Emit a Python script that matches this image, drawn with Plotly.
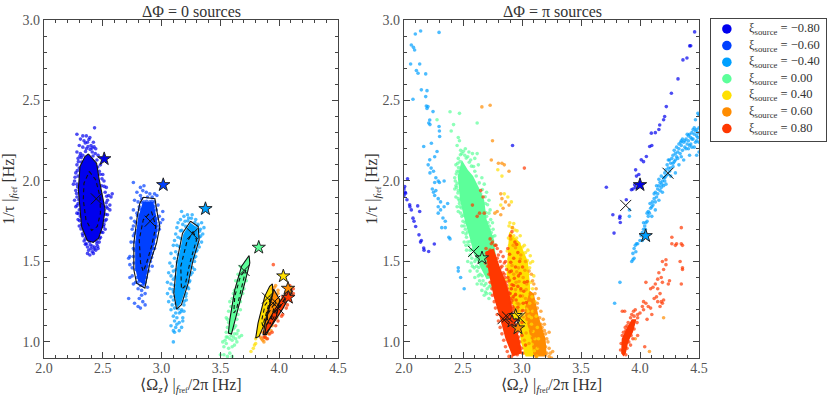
import plotly.graph_objects as go

W, H = 831, 399
FONT = "Liberation Serif"

# colours for each xi value
xi_labels = ["\u22120.80", "\u22120.60", "\u22120.40", "0.00", "0.40", "0.60", "0.80"]
xi_colors = ["#0000ee", "#0040ff", "#00a0ff", "#5cff9a", "#ffe000", "#ff8c00", "#ff3800"]
c_m08, c_m06, c_m04, c_000, c_p04, c_p06, c_p08 = xi_colors

# ---- left panel, dphi = 0 : clouds, dense cores, 90% / 50% contours
l_m08_pts = [(2.43,2.33),(2.28,2.29),(2.33,2.28),(2.36,2.28),(2.31,2.26),(2.39,2.27),(2.34,2.25),(2.37,2.24),(2.42,2.24),(2.30,2.22),(2.33,2.21),(2.40,2.22),(2.36,2.20),(2.44,2.20),(2.28,2.18),(2.31,2.17),(2.41,2.18),(2.46,2.16),(2.29,2.14),(2.33,2.16),(2.45,2.13),(2.48,2.10),(2.28,2.10),(2.30,2.08),(2.27,2.05),(2.47,2.06),(2.50,2.04),(2.29,2.03),(2.26,2.00),(2.28,1.98),(2.51,2.00),(2.49,1.97),(2.53,1.96),(2.25,1.98),(2.27,1.94),(2.52,1.93),(2.55,1.91),(2.58,1.92),(2.57,1.90),(2.28,1.90),(2.26,1.88),(2.54,1.88),(2.29,1.86),(2.56,1.85),(2.27,1.84),(2.53,1.84),(2.30,1.82),(2.28,1.80),(2.56,1.82),(2.54,1.79),(2.31,1.78),(2.29,1.76),(2.53,1.76),(2.51,1.73),(2.32,1.73),(2.30,1.72),(2.52,1.70),(2.34,1.69),(2.50,1.68),(2.33,1.66),(2.48,1.65),(2.35,1.64),(2.47,1.62),(2.36,1.61),(2.45,1.61),(2.37,1.59),(2.43,1.59),(2.40,1.58),(2.44,1.57),(2.38,1.57),(2.41,1.56),(2.39,1.54),(2.42,1.55),(2.37,1.55),(2.46,1.58),
             (2.292,2.12),(2.317,2.145),(2.353,2.183),(2.392,2.196),(2.417,2.155),(2.436,2.171),(2.457,2.087),(2.478,2.042),(2.264,2.023),(2.283,2.064),(2.318,2.118),(2.493,2.013),(2.286,1.962),(2.512,1.966),(2.277,1.922),(2.533,1.905),(2.296,1.883),(2.529,1.864),(2.281,1.847),(2.541,1.83),(2.293,1.797),(2.523,1.793),(2.303,1.753),(2.519,1.752),(2.314,1.702),(2.506,1.716),(2.327,1.672),(2.488,1.683),(2.341,1.627),(2.472,1.643),(2.352,1.606),(2.455,1.594),(2.393,1.603),(2.426,1.577),(2.409,1.596),(2.387,1.622),(2.447,1.626),(2.305,2.155),(2.374,2.213),(2.351,2.236),(2.409,2.204),(2.426,2.212),(2.382,2.258)]
l_m08_core = [(2.377,2.168),(2.447,2.11),(2.47,2.007),(2.498,1.903),(2.52,1.821),(2.498,1.717),(2.464,1.645),(2.419,1.618),(2.368,1.63),(2.32,1.717),(2.306,1.821),(2.292,1.945),(2.306,2.09),(2.348,2.152)]
l_m08_in = [(2.385,2.059),(2.44,2.007),(2.476,1.903),(2.48,1.80),(2.453,1.717),(2.405,1.692),(2.357,1.759),(2.334,1.883),(2.34,1.986)]
l_m06_pts = [(2.76,1.99),(2.82,1.96),(2.85,1.97),(2.84,1.94),(2.79,1.93),(2.87,1.93),(2.90,1.92),(2.94,1.92),(2.96,1.91),(2.82,1.91),(2.77,1.88),(2.80,1.87),(2.92,1.90),(2.83,1.89),(2.88,1.90),(2.85,1.87),(2.90,1.87),(2.94,1.87),(2.97,1.85),(2.81,1.84),(2.76,1.82),(2.79,1.80),(3.01,1.81),(2.98,1.78),(2.74,1.77),(2.77,1.75),(2.99,1.74),(3.01,1.76),(2.76,1.72),(2.75,1.70),(2.98,1.70),(2.76,1.66),(2.74,1.62),(2.95,1.66),(2.93,1.63),(2.76,1.58),(2.94,1.58),(2.72,1.52),(2.73,1.53),(2.92,1.55),(2.90,1.52),(2.73,1.48),(2.75,1.46),(2.92,1.47),(2.89,1.44),(2.75,1.41),(2.73,1.40),(2.87,1.40),(2.78,1.37),(2.76,1.36),(2.88,1.34),(2.80,1.33),(2.83,1.32),(2.86,1.30),(2.83,1.29),(2.81,1.27),(2.84,1.25),(2.72,1.27),(2.77,1.24),(2.80,1.22),(2.86,1.23),(2.82,1.21),
             (2.832,1.868),(2.855,1.846),(2.873,1.874),(2.897,1.858),(2.918,1.873),(2.937,1.842),(2.812,1.824),(2.846,1.828),(2.905,1.835),(2.955,1.82),(2.795,1.785),(2.822,1.79),(2.935,1.785),(2.962,1.765),(2.782,1.74),(2.805,1.72),(2.953,1.74),(2.972,1.72),(2.772,1.675),(2.79,1.69),(2.955,1.69),(2.945,1.65),(2.765,1.62),(2.935,1.61),(2.77,1.57),(2.76,1.53),(2.925,1.58),(2.915,1.525),(2.765,1.49),(2.905,1.50),(2.78,1.45),(2.88,1.47),(2.79,1.40),(2.87,1.43),(2.80,1.37),(2.84,1.35),(2.86,1.37),(2.82,1.35)]
l_m06_core = [(2.84,1.87),(2.93,1.87),(2.96,1.76),(2.965,1.70),(2.94,1.61),(2.89,1.49),(2.855,1.35),(2.80,1.38),(2.775,1.46),(2.775,1.61),(2.80,1.77)]
l_m06_out = [(2.844,1.899),(2.943,1.889),(2.963,1.80),(2.985,1.717),(2.957,1.614),(2.90,1.49),(2.858,1.334),(2.787,1.365),(2.764,1.448),(2.764,1.614),(2.793,1.779),(2.815,1.862)]
l_m06_in = [(2.914,1.81),(2.951,1.717),(2.914,1.593),(2.872,1.49),(2.844,1.438),(2.821,1.49),(2.81,1.634),(2.844,1.759)]
l_m04_pts = [(3.17,1.81),(3.22,1.79),(3.26,1.79),(3.19,1.78),(3.23,1.77),(3.29,1.76),(3.16,1.76),(3.14,1.74),(3.31,1.73),(3.34,1.74),(3.20,1.75),(3.18,1.73),(3.13,1.71),(3.33,1.70),(3.36,1.71),(3.16,1.69),(3.12,1.67),(3.35,1.67),(3.32,1.65),(3.14,1.65),(3.11,1.63),(3.34,1.62),(3.13,1.60),(3.10,1.60),(3.32,1.59),(3.12,1.56),(3.08,1.55),(3.30,1.57),(3.29,1.53),(3.11,1.52),(3.07,1.49),(3.09,1.47),(3.28,1.50),(3.28,1.45),(3.10,1.44),(3.06,1.43),(3.08,1.41),(3.26,1.43),(3.24,1.38),(3.05,1.37),(3.08,1.36),(3.10,1.39),(3.07,1.33),(3.10,1.31),(3.23,1.33),(3.21,1.30),(3.05,1.30),(3.08,1.28),(3.21,1.26),(3.10,1.26),(3.06,1.25),(3.19,1.23),(3.09,1.23),(3.11,1.21),(3.17,1.20),(3.19,1.19),(3.08,1.20),(3.12,1.18),(3.15,1.18),(3.10,1.16),(3.18,1.15),(3.13,1.15),(3.11,1.13),(3.15,1.12),(3.18,1.13),(3.13,1.11),(3.17,1.09),(3.12,1.09),(3.08,1.10),(3.10,1.07),(3.11,1.06),(3.15,1.07),(3.10,1.00),
             (3.205,1.718),(3.224,1.752),(3.253,1.768),(3.283,1.742),(3.305,1.722),(3.172,1.693),(3.322,1.688),(3.163,1.642),(3.331,1.657),(3.152,1.591),(3.312,1.608),(3.142,1.543),(3.293,1.562),(3.133,1.497),(3.276,1.522),(3.122,1.448),(3.262,1.462),(3.117,1.403),(3.247,1.417),(3.108,1.352),(3.234,1.372),(3.096,1.326),(3.222,1.341),(3.113,1.283),(3.205,1.283),(3.122,1.237),(3.192,1.252),(3.141,1.206),(3.164,1.187)]
l_m04_core = [(3.245,1.74),(3.305,1.71),(3.312,1.635),(3.262,1.51),(3.22,1.365),(3.165,1.24),(3.13,1.21),(3.11,1.30),(3.135,1.49),(3.185,1.67)]
l_m04_out = [(3.246,1.75),(3.311,1.717),(3.319,1.634),(3.268,1.51),(3.226,1.365),(3.169,1.231),(3.127,1.204),(3.104,1.303),(3.127,1.49),(3.178,1.676)]
l_m04_in = [(3.268,1.686),(3.297,1.634),(3.24,1.49),(3.198,1.345),(3.169,1.328),(3.163,1.469),(3.212,1.614)]
l_000_pts = [(3.52,1.00),(3.55,0.99),(3.58,1.02),(3.60,1.01),(3.63,1.02),(3.66,1.03),(3.64,1.00),(3.56,1.03),(3.60,0.97),(3.62,0.98),(3.57,0.96),(3.53,0.97),(3.59,1.04),(3.62,1.05),(3.65,1.07),(3.61,1.08),(3.55,1.06),(3.56,1.09),(3.50,0.92),(3.53,0.92),(3.56,0.91),(3.60,0.91),(3.58,0.93),(3.54,1.01),(3.55,1.15),(3.57,1.19),(3.60,1.27),(3.62,1.32),(3.65,1.38),(3.67,1.42),(3.69,1.47),(3.72,1.50),(3.70,1.33),(3.67,1.25),(3.65,1.17),(3.63,1.10),(3.57,1.12),(3.59,1.22),
             (3.56,1.14),(3.58,1.25),(3.60,1.22),(3.61,1.30),(3.63,1.38),(3.65,1.42),(3.67,1.47),(3.71,1.42),(3.72,1.38),(3.69,1.30),(3.67,1.20),(3.64,1.14),(3.62,1.09),(3.64,1.05),(3.68,1.04),(3.61,1.03),(3.55,1.03)]
l_000_out = [(3.744,1.537),(3.75,1.49),(3.707,1.365),(3.65,1.2),(3.594,1.049),(3.568,1.055),(3.58,1.138),(3.622,1.324),(3.679,1.469)]
l_000_in = [(3.716,1.448),(3.679,1.324),(3.636,1.2),(3.614,1.18),(3.622,1.283),(3.67,1.407)]
l_p04_pts = [(3.76,0.94),(3.78,0.96),(3.80,0.99),(3.80,1.02),(3.82,1.06),(3.79,0.98)]
l_p04_core = [(3.942,1.361),(3.947,1.303),(3.891,1.138),(3.829,1.034),(3.80,1.024),(3.82,1.117),(3.877,1.283),(3.919,1.345)]
l_p04_in = [(3.925,1.27),(3.89,1.17),(3.86,1.10),(3.85,1.13),(3.88,1.23)]
l_p06_pts = [(3.96,1.34),(3.99,1.30),(4.01,1.24),(3.98,1.15),(3.84,1.03),(3.86,1.01),(3.88,1.03),(3.93,1.07),
             (3.85,1.02),(3.87,1.00),(3.89,1.02),(3.91,1.05),(3.94,1.10),(3.96,1.14),(3.99,1.17),(4.01,1.20),(4.02,1.26),(3.99,1.32),(3.97,1.35),(3.94,1.33),(3.90,1.19),(3.88,1.14),(3.87,1.09),(3.86,1.06)]
l_p06_core = [(3.953,1.328),(4.005,1.262),(3.976,1.159),(3.891,1.045),(3.863,1.045),(3.891,1.159)]
l_p06_in = [(3.97,1.25),(3.94,1.17),(3.90,1.11),(3.90,1.17)]
l_p08_pts = [(3.95,1.48),(4.10,1.33),(4.11,1.29),(4.07,1.23),(4.03,1.17),(3.99,1.13),(3.94,1.06),(3.90,1.02),(3.87,1.03),
             (4.09,1.35),(4.12,1.33),(4.12,1.30),(4.09,1.26),(4.06,1.21),(4.02,1.16),(3.97,1.10),(3.92,1.05),(3.88,1.03),(4.06,1.31),(4.03,1.28),(3.98,1.20),(3.95,1.17),(3.90,1.10),(3.875,1.06)]
l_p08_core = [(4.089,1.341),(4.112,1.314),(4.033,1.21),(3.934,1.097),(3.877,1.045),(3.891,1.107),(3.962,1.2),(4.047,1.293)]
l_p08_in = [(4.05,1.27),(3.98,1.18),(3.92,1.11),(3.94,1.16)]

l_cross = [(2.445,1.889),(2.903,1.75),(3.263,1.672),(3.701,1.444),(3.90,1.272),(3.962,1.252),(3.99,1.21)]
l_star = [(2.512,2.137),(3.014,1.976),(3.373,1.827),(3.826,1.587),(4.035,1.409),(4.075,1.332),(4.078,1.276)]
l_star_colors = [c_m08, c_m06, c_m04, c_000, c_p04, c_p06, c_p08]

# ---- right panel, dphi = pi
r_m08_pts = [(2.03,2.013),(2.006,1.965),(2.0,1.95),(2.01,1.93),(2.014,1.924),(2.0,1.91),(2.025,1.883),(2.048,1.852),(2.062,1.82),(2.05,1.84),(2.116,1.845),(2.133,1.81),(2.076,1.769),(2.085,1.75),(2.099,1.717),(2.127,1.665),(2.147,1.63),(2.14,1.62),(2.167,1.583),(2.17,1.57),(2.209,1.562),(2.257,1.608),(3.715,1.961),(3.77,1.79),(3.78,1.676),(3.828,1.769),(3.833,1.742),(3.83,1.78),(3.884,1.883),(3.927,1.945),(3.94,1.95),(3.955,1.976),(3.96,1.96),(3.963,2.069),(3.97,2.03),(3.99,2.04),(4.011,2.131),(4.03,2.12),(4.054,2.152),(4.082,2.214),(4.10,2.22),(4.096,2.297),(4.13,2.30),(4.167,2.348),(4.16,2.32),(4.209,2.40),(4.20,2.38),(4.223,2.462),(4.266,2.545),(4.322,2.634),(4.364,2.752),(4.398,2.764),(4.421,2.839),(4.43,2.84),(4.463,2.926),(2.92,2.22)]
r_m04_pts = [(2.062,2.845),(2.09,2.814),(2.08,2.83),(2.141,2.932),(2.096,2.913),(2.297,2.923),(2.056,2.727),(2.133,2.727),(2.105,2.686),(2.119,2.669),(2.184,2.665),(2.076,2.508),(2.147,2.566),(2.195,2.561),(2.184,2.524),(2.189,2.466),(2.203,2.462),(2.195,2.45),(2.246,2.431),(2.218,2.379),(2.21,2.36),(2.22,2.35),(2.297,2.338),(2.30,2.31),(2.302,2.276),(2.167,2.214),(2.232,2.234),(2.28,2.183),(2.218,2.131),(2.26,2.15),(2.205,2.10),(2.23,2.08),(2.25,2.06),(2.22,2.05),(2.27,2.02),(2.26,1.99),(2.29,2.00),(2.30,1.99),(2.34,2.00),(2.24,1.95),(2.25,1.93),(2.27,1.94),(2.26,1.91),(2.29,1.89),(2.31,1.87),(2.29,1.84),(2.31,1.82),(2.29,1.80),(2.34,1.84),(2.37,1.86),(2.33,1.77),(2.35,1.75),(2.32,1.71),(2.35,1.71),(2.38,1.65),(2.39,1.64),(2.46,1.46),(2.46,1.44),(2.48,1.40),(2.51,1.33),(3.83,1.37),(3.785,1.24),(3.91,1.82),(3.91,1.78),(3.93,1.50),(3.94,1.51),(3.95,1.52),(3.96,1.60),(3.97,1.61),(3.95,1.58),(4.00,1.63),(4.01,1.66),(4.02,1.68),(4.03,1.70),(4.04,1.72),(4.05,1.74),(4.03,1.74),(4.06,1.75),(4.07,1.78),(4.08,1.80),(4.07,1.81),(4.09,1.83),(4.10,1.84),(4.11,1.85),(4.13,1.87),(4.12,1.89),(4.14,1.90),(4.15,1.92),(4.15,1.95),(4.16,1.97),(4.17,1.94),(4.18,1.96),(4.17,1.99),(4.19,2.00),(4.20,2.02),(4.18,2.03),(4.21,2.05),(4.22,2.03),(4.22,2.07),(4.24,2.08),(4.23,2.10),(4.25,2.06),(4.26,2.11),(4.25,2.13),(4.27,2.14),(4.29,2.12),(4.28,2.16),(4.30,2.17),(4.29,2.19),(4.31,2.15),(4.32,2.18),(4.33,2.20),(4.31,2.21),(4.34,2.17),(4.35,2.22),(4.36,2.19),(4.37,2.24),(4.35,2.25),(4.38,2.21),(4.39,2.20),(4.40,2.23),(4.39,2.26),(4.41,2.25),(4.42,2.22),(4.43,2.27),(4.44,2.30),(4.42,2.29),(4.45,2.26),(4.46,2.29),(4.47,2.31),(4.45,2.32),(4.48,2.28),(4.49,2.30),(4.48,2.25),(4.50,2.24),(4.47,2.38),(4.49,2.42),(4.50,2.41),(4.46,2.21),(4.50,2.18),(4.48,2.16),(4.42,2.16),(4.37,2.13),(4.33,2.10),(4.30,2.05),(4.26,2.03),(4.21,2.00),(4.19,1.93),(4.13,1.82),(4.16,1.88),(4.10,1.78),(4.05,1.67),(4.22,1.98),(4.28,2.09),(4.35,2.15),
             (3.94,1.55),(3.98,1.61),(3.965,1.56),(4.02,1.63),(4.045,1.70),(4.06,1.80),(4.085,1.86),(4.105,1.87),(4.12,1.92),(4.13,1.93),(4.14,1.97),(4.16,2.01),(4.185,1.98),(4.20,1.97),(4.21,2.02),(4.235,2.04),(4.24,2.13),(4.26,2.08),(4.28,2.11),(4.30,2.13),(4.32,2.14),(4.33,2.23),(4.345,2.24),(4.36,2.26),(4.38,2.25),(4.40,2.29),(4.41,2.20),(4.43,2.23),(4.44,2.21),(4.46,2.33),(4.48,2.32),(4.47,2.24),(4.49,2.27),(4.50,2.33),(4.44,2.26),(4.41,2.28)]
r_000_pts = [(2.39,2.43),(2.47,2.42),(2.28,2.38),(2.42,2.35),(2.62,2.36),(2.40,2.31),(2.46,2.27),(2.47,2.25),(2.45,2.22),(2.48,2.19),(2.52,2.20),(2.55,2.18),(2.58,2.17),(2.62,2.17),(2.60,2.14),(2.46,2.14),(2.44,2.10),(2.63,2.10),(2.45,2.06),(2.60,2.06),(2.66,2.02),(2.43,2.02),(2.68,1.98),(2.44,1.97),(2.46,1.94),(2.70,1.93),(2.44,1.90),(2.72,1.88),(2.47,1.86),(2.45,1.84),(2.73,1.82),(2.48,1.80),(2.70,1.78),(2.50,1.75),(2.75,1.74),(2.52,1.70),(2.50,1.68),(2.74,1.68),(2.53,1.65),(2.55,1.60),(2.51,1.62),(2.75,1.63),(2.53,1.57),(2.73,1.58),(2.56,1.54),(2.54,1.50),(2.60,1.50),(2.58,1.47),(2.56,1.44),(2.62,1.44),(2.60,1.40),(2.64,1.38),(2.62,1.36),(2.68,1.35),(2.66,1.32),(2.70,1.30),(2.73,1.30),(2.72,1.27),(2.68,1.29),(2.75,1.33),
             (2.478,2.163),(2.503,2.184),(2.527,2.142),(2.553,2.116),(2.572,2.092),(2.612,2.031),(2.638,1.988),(2.664,1.947),(2.688,1.902),(2.708,1.852),(2.462,2.083),(2.443,2.044),(2.451,1.985),(2.457,1.925),(2.469,1.878),(2.486,1.832),(2.503,1.787),(2.518,1.742),(2.537,1.683),(2.558,1.624),(2.572,1.572),(2.608,1.512),(2.634,1.462),(2.662,1.411),(2.694,1.362),(2.722,1.343),(2.742,1.372),(2.712,1.742),(2.724,1.696),(2.752,1.654),(2.775,1.602),(2.693,1.804),
             (2.49,2.17),(2.515,2.16),(2.54,2.15),(2.565,2.13),(2.59,2.09),(2.475,2.12),(2.455,2.11),(2.465,2.06),(2.435,2.0),(2.445,1.96),(2.43,1.95),(2.46,1.89),(2.475,1.84),(2.46,1.81),(2.49,1.78),(2.51,1.72),(2.49,1.72),(2.525,1.67),(2.54,1.62),(2.525,1.60),(2.56,1.57),(2.575,1.52),(2.57,1.49),(2.595,1.46),(2.615,1.47),(2.63,1.41),(2.645,1.42),(2.655,1.36),(2.67,1.38),(2.705,1.33),(2.69,1.31),(2.735,1.35),(2.65,1.92),(2.66,1.90),(2.69,1.86),(2.72,1.80),(2.735,1.76),(2.725,1.72),(2.755,1.70),(2.77,1.66)]
r_000_core = [(2.49,2.13),(2.54,2.07),(2.585,2.03),(2.64,1.95),(2.68,1.88),(2.70,1.76),(2.76,1.64),(2.78,1.52),(2.755,1.40),(2.70,1.39),(2.65,1.46),(2.59,1.55),(2.56,1.64),(2.52,1.74),(2.475,1.88),(2.455,2.03)]
r_p04_pts = [(2.795,2.07),(2.83,2.03),(2.85,1.92),(2.82,1.85),(2.88,1.90),(2.91,1.87),
             (2.89,1.72),(2.915,1.71),(2.94,1.695),(2.905,1.675),(2.93,1.66),(2.955,1.645),(2.885,1.645),(2.91,1.63),(2.945,1.625),(2.975,1.61),(3.005,1.59),(2.895,1.60),(2.925,1.59),(2.96,1.585),(2.99,1.565),(3.03,1.555),(3.07,1.535),(2.875,1.565),(2.905,1.555),(2.94,1.55),(2.975,1.53),(3.01,1.52),(3.045,1.505),(2.89,1.515),(2.92,1.505),(2.955,1.49),(2.99,1.485),(3.03,1.475),(3.065,1.46),(2.87,1.47),(2.905,1.46),(2.94,1.445),(2.975,1.44),(3.01,1.43),(3.05,1.42),(2.885,1.425),(2.92,1.41),(2.96,1.40),(2.995,1.39),(3.03,1.385),(3.075,1.37),(2.865,1.385),(2.90,1.37),(2.94,1.36),(2.98,1.35),(3.015,1.345),(3.055,1.33),(2.88,1.335),(2.92,1.325),(2.96,1.31),(3.0,1.30),(3.04,1.295),(3.085,1.28),(2.90,1.29),(2.94,1.275),(2.98,1.265),(3.02,1.255),(3.065,1.24),(2.92,1.245),(2.955,1.23),(2.995,1.22),(3.04,1.205),(3.09,1.19),(2.935,1.20),(2.975,1.185),(3.015,1.17),(3.06,1.16),(2.99,1.135),(3.035,1.125),(3.08,1.11),(3.005,1.09),(3.05,1.08),(3.095,1.065),(3.02,1.05),(3.065,1.035),(3.11,1.02),(3.04,1.00),(3.085,0.985),(3.06,0.96),(3.105,0.945),(3.08,0.925),(3.125,0.91),
             (2.897,1.74),(2.93,1.735),(2.958,1.69),(2.985,1.66),(3.02,1.60),(3.05,1.57),(3.09,1.50),(3.07,1.49),(3.10,1.41),(3.09,1.33),(3.11,1.25),(3.12,1.16),(3.13,1.09),(3.14,1.02),(3.13,0.96),(3.05,1.19),(3.08,1.15),(3.03,1.09),(3.07,1.01),(3.045,0.94),(2.99,1.17),(3.02,1.13),(2.985,1.10),(3.01,1.01),(3.03,0.97),(3.02,0.93)]
r_p06_pts = [(2.66,2.46),(2.73,2.47),(2.75,2.25),(2.74,2.13),(2.80,2.11),(2.83,2.11),(2.85,2.10),(2.89,2.06),(2.82,1.92),(2.83,1.89),(2.86,1.87),(2.89,1.85),(2.84,1.83),(2.77,1.80),(2.79,1.81),(2.82,1.79),(2.92,1.71),(4.20,1.15),(4.08,0.94),(3.96,1.02),
             (2.925,1.60),(2.99,1.54),(3.03,1.50),(2.97,1.46),(3.06,1.44),(2.93,1.42),(3.01,1.40),(3.09,1.38),(2.95,1.37),(3.04,1.36),(2.91,1.33),(2.99,1.32),(3.07,1.30),(3.11,1.30),(2.94,1.29),(3.03,1.27),(3.10,1.25),(2.96,1.24),(3.05,1.22),(3.13,1.21),(3.00,1.19),(3.09,1.17),(3.15,1.15),(3.04,1.14),(3.12,1.11),(3.17,1.09),(3.07,1.09),(3.15,1.06),(3.20,1.05),(3.10,1.03),(3.18,1.00),(3.23,0.96),(3.14,0.97),(3.21,0.93),
             (3.08,1.42),(3.10,1.36),(3.12,1.33),(3.14,1.27),(3.13,1.24),(3.16,1.19),(3.18,1.14),(3.19,1.11),(3.21,1.02),(3.22,1.00),(3.24,0.93),(3.23,0.91),(3.25,0.90),(3.16,1.11),(3.19,1.07),(3.17,1.03),(3.2,0.97),(3.12,1.06),(3.08,1.07),(3.15,0.93),(3.12,0.91),(3.26,0.94),(3.11,1.19),(3.23,1.06),
             (2.905,1.64),(2.945,1.585),(2.985,1.515),(2.915,1.475),(2.955,1.435),(3.025,1.445),(2.895,1.385),(2.975,1.375),(3.035,1.325),(2.945,1.325),(3.005,1.285),(2.925,1.27),(2.975,1.235),(3.03,1.195),(2.965,1.195),(3.01,1.155),(2.985,1.075),(3.035,1.055),(3.02,1.01),(3.06,0.99)]
r_p06_core = [(3.04,1.33),(3.10,1.30),(3.14,1.16),(3.20,1.02),(3.21,0.91),(3.09,0.91),(3.04,1.02),(3.02,1.18)]
r_p04_core = [(2.89,1.68),(2.98,1.62),(3.05,1.50),(3.07,1.33),(3.02,1.20),(2.95,1.16),(2.90,1.28),(2.87,1.42)]
r_p04_core2 = [(2.97,1.16),(3.03,1.16),(3.08,1.0),(3.10,0.91),(3.03,0.91),(2.99,1.0)]
r_p08_pts = [(3.02,2.08),(2.65,1.94),(2.67,1.90),(2.58,1.85),(2.64,1.80),(2.68,1.80),(2.62,1.78),(2.73,1.64),(2.75,1.62),(2.78,1.60),(2.73,1.57),(2.70,1.55),(2.82,1.56),(2.79,1.52),(2.69,1.49),(2.72,1.47),(2.82,1.46),(2.85,1.42),(2.87,1.35),(2.89,1.30),(2.92,1.22),(2.94,1.10),(2.97,1.03),(2.98,0.97),(2.96,0.92),(2.91,0.91),(3.85,1.19),(3.87,1.19),(3.89,1.10),(3.93,1.17),(3.96,1.20),(3.98,1.15),(4.00,1.18),(4.02,1.22),(4.03,1.25),(4.05,1.24),(4.03,1.20),(4.07,1.22),(4.05,1.37),(4.09,1.33),(4.11,1.34),(4.13,1.36),(4.15,1.39),(4.16,1.43),(4.09,1.21),(4.12,1.27),(4.14,1.28),(4.15,1.25),(4.17,1.22),(4.18,1.25),(4.19,1.24),(4.20,1.26),(4.17,1.30),(4.15,1.33),(4.18,1.40),(4.19,1.37),(4.20,1.45),(4.22,1.48),(4.22,1.51),(4.19,1.50),(4.24,1.36),(4.25,1.38),(4.27,1.65),(4.27,1.61),(4.30,1.60),(4.31,1.61),(4.35,1.71),(4.35,1.61),(4.36,1.60),(4.34,1.50),(4.36,1.46),(4.36,1.45),(4.35,1.36),(4.10,1.17),(4.06,1.14),(3.98,1.04),(3.94,1.02),(3.92,0.98),(4.04,0.97),(3.89,1.00),(3.90,1.07),(3.86,1.06),
             (2.90,1.66),(2.94,1.62),(2.88,1.58),(2.93,1.52),(2.98,1.50),(2.86,1.50),(2.91,1.44),(2.97,1.41),(3.02,1.37),(2.88,1.40),(2.93,1.35),(2.99,1.33),(2.90,1.30),(2.95,1.26),(3.01,1.24),(2.93,1.21),(2.97,1.17),(3.00,1.12),(2.96,1.11),(3.00,1.04),(3.03,0.98),
             (2.695,1.58),(2.705,1.52),(2.71,1.47),(2.72,1.42),(2.73,1.37),(2.745,1.33),(2.75,1.29),(2.765,1.25),(2.775,1.21),(2.79,1.17),(2.80,1.13),(2.815,1.09),(2.83,1.05),(2.845,1.01),(2.86,0.97),(2.875,0.94),(2.89,0.91),(2.79,1.58),(2.80,1.54),(2.815,1.50),(2.83,1.47),(2.84,1.43),(2.855,1.40),(2.865,1.37),(2.875,1.33),(2.885,1.31),(2.90,1.27),(2.905,1.24),(2.915,1.20),(2.93,1.17),(2.935,1.13),(2.945,1.09),(2.96,1.06),(2.98,1.00),(2.995,0.96),(3.005,0.93),(2.77,1.60),(2.74,1.61),(2.84,1.53),(2.85,1.49),(2.87,1.45),(2.89,1.38),(2.91,1.33),(2.925,1.28),(2.94,1.19),(2.955,1.14),(2.975,1.08),
             (3.835,0.95),(3.84,0.99),(3.85,1.04),(3.875,1.09),(3.90,1.12),(3.92,1.15),(3.95,1.16),(3.975,1.12),(3.95,1.08),(3.925,1.04),(3.905,1.0),(3.89,0.96),(3.88,0.92),(3.86,0.985),(3.88,1.07),(3.94,1.11),(3.98,1.17),(3.945,1.19),
             (2.915,1.685),(2.955,1.605),(2.895,1.545),(2.965,1.555),(2.905,1.495),(2.945,1.465),(3.005,1.465),(2.895,1.435),(2.985,1.425),(2.935,1.395),(3.045,1.375),(2.915,1.355),(2.965,1.345),(3.015,1.315),(2.945,1.295),(2.985,1.285),(3.035,1.245),(2.915,1.255),(2.965,1.215),(3.005,1.195)]
r_p08_core = [(2.69,1.56),(2.76,1.58),(2.81,1.47),(2.86,1.38),(2.90,1.28),(2.93,1.15),(2.98,1.01),(3.00,0.93),(2.92,0.91),(2.86,1.02),(2.81,1.155),(2.76,1.28),(2.72,1.42)]
r_p08_core2 = [(3.84,0.93),(3.845,1.02),(3.89,1.09),(3.93,1.14),(3.97,1.14),(3.94,1.06),(3.90,1.0),(3.88,0.93),(3.86,0.91)]

r_cross = [(3.879,1.848),(4.237,2.048),(2.59,1.562),(2.98,1.149),(2.876,1.155),(2.839,1.144)]
r_star = [(4.0,1.976),(4.048,1.659),(2.661,1.521),(2.946,1.163),(2.966,1.086),(2.915,1.128)]
r_star_colors = [c_m08, c_m04, c_000, c_p04, c_p06, c_p08]

tick_vals_x = [2.0, 2.5, 3.0, 3.5, 4.0, 4.5]
tick_vals_y = [1.0, 1.5, 2.0, 2.5, 3.0]
ref_part = "<sub><i>f</i><span style='font-size:8px'>ref</span></sub>"
x_title = "\u27e8\u03a9<sub><i>z</i></sub>\u27e9 |" + ref_part + "/2\u03c0 [Hz]"
y_title = "1/\u03c4 |" + ref_part + " [Hz]"


def xs(pts):
    return [p[0] for p in pts]


def ys(pts):
    return [p[1] for p in pts]


fig = go.Figure()


def add_points(pts, color, ax):
    fig.add_trace(go.Scatter(x=xs(pts), y=ys(pts), mode="markers", xaxis="x" + ax, yaxis="y" + ax,
                             marker=dict(color=color, size=3.6, opacity=0.7, line_width=0)))


def add_core(pts, color, ax):
    closed = pts + pts[:1]
    fig.add_trace(go.Scatter(x=xs(closed), y=ys(closed), mode="lines", fill="toself", fillcolor=color,
                             line=dict(width=0, color=color), xaxis="x" + ax, yaxis="y" + ax))


def add_contour(pts, dash):
    closed = pts + pts[:1]
    fig.add_trace(go.Scatter(x=xs(closed), y=ys(closed), mode="lines",
                             line=dict(color="#111", width=1.1, dash=dash)))


def add_marks(crosses, stars, star_colors, ax):
    fig.add_trace(go.Scatter(x=xs(stars), y=ys(stars), mode="markers", xaxis="x" + ax, yaxis="y" + ax,
                             marker=dict(symbol="star", size=10, color=star_colors, line=dict(color="#222", width=1))))
    fig.add_trace(go.Scatter(x=xs(crosses), y=ys(crosses), mode="markers", xaxis="x" + ax, yaxis="y" + ax,
                             marker=dict(symbol="x-thin", size=11, line=dict(color="#111", width=1))))


# left
for pts, core, col in [(l_m08_pts, l_m08_core, c_m08), (l_m06_pts, l_m06_core, c_m06), (l_m04_pts, l_m04_core, c_m04),
                       (l_000_pts, l_000_out, c_000), (l_p04_pts, l_p04_core, c_p04), (l_p06_pts, l_p06_core, c_p06),
                       (l_p08_pts, l_p08_core, c_p08)]:
    add_points(pts, col, "")
    add_core(core, col, "")
for c in [l_m08_core, l_m06_out, l_m04_out, l_000_out, l_p04_core, l_p06_core, l_p08_core]:
    add_contour(c, "solid")
for c in [l_m08_in, l_m06_in, l_m04_in, l_000_in, l_p04_in, l_p06_in, l_p08_in]:
    add_contour(c, "4px,3px")
add_marks(l_cross, l_star, l_star_colors, "")

# right
add_points(r_m08_pts, c_m08, "2")
add_points(r_m04_pts, c_m04, "2")
add_core(r_000_core, c_000, "2")
add_points(r_000_pts, c_000, "2")
add_core(r_p06_core, c_p06, "2")
add_core(r_p04_core, c_p04, "2")
add_core(r_p04_core2, c_p04, "2")
add_points(r_p04_pts, c_p04, "2")
add_points(r_p06_pts, c_p06, "2")
add_core(r_p08_core, c_p08, "2")
add_core(r_p08_core2, c_p08, "2")
add_points(r_p08_pts, c_p08, "2")
add_marks(r_cross, r_star, r_star_colors, "2")

# legend is its own small axes so the row spacing can match
for i, lab in enumerate(xi_labels):
    fig.add_trace(go.Scatter(x=[0], y=[i], mode="markers", xaxis="x3", yaxis="y3", name=lab,
                             marker=dict(color=xi_colors[i], size=9.5)))
    fig.add_annotation(x=0, y=i, xref="x3", yref="y3", xanchor="left", xshift=20, showarrow=False,
                       text="\u03be<sub>source</sub> = " + lab, font=dict(family=FONT, size=12.5, color="#333"))

axis_style = dict(showgrid=False, zeroline=False, showline=True, linecolor="#444", linewidth=1.3, mirror="ticks",
                  ticks="inside", ticklen=6, tickwidth=1, tickcolor="#444", tickformat=".1f",
                  tickfont=dict(family=FONT, size=14, color="#555"),
                  minor=dict(dtick=0.1, ticks="inside", ticklen=3, tickwidth=1, tickcolor="#444"))
title_font = dict(family=FONT, size=16, color="#333")
y_dom = [1 - 358 / H, 1 - 20 / H]

fig.update_layout(
    width=W, height=H, margin=dict(l=0, r=0, t=0, b=0, pad=0, autoexpand=False), showlegend=False,
    paper_bgcolor="white", plot_bgcolor="white",
    xaxis=dict(domain=[44 / W, 338 / W], range=[2.0, 4.5], tickvals=tick_vals_x, automargin=False, ticklabelstandoff=-3,
               title=dict(text=x_title, font=title_font, standoff=0), **axis_style),
    yaxis=dict(domain=y_dom, range=[0.9, 3.0], tickvals=tick_vals_y, automargin=False,
               title=dict(text=y_title, font=title_font, standoff=5), **axis_style),
    xaxis2=dict(domain=[404 / W, 699 / W], range=[2.0, 4.5], tickvals=tick_vals_x, anchor="y2", automargin=False, ticklabelstandoff=-3,
                title=dict(text=x_title, font=title_font, standoff=0), **axis_style),
    yaxis2=dict(domain=y_dom, range=[0.9, 3.0], tickvals=tick_vals_y, anchor="x2", automargin=False,
                title=dict(text=y_title, font=title_font, standoff=0), **axis_style),
    xaxis3=dict(domain=[711 / W, 826 / W], range=[-0.16, 1], anchor="y3", showticklabels=False, ticks="",
                showgrid=False, zeroline=False, showline=True, mirror=True, linecolor="#444", linewidth=1.3),
    yaxis3=dict(domain=[1 - 141 / H, 1 - 19 / H], range=[6.75, -0.6], anchor="x3", showticklabels=False, ticks="",
                showgrid=False, zeroline=False, showline=True, mirror=True, linecolor="#444", linewidth=1.3),
)

fig.add_annotation(x=191 / W, y=1 - 11 / H, xref="paper", yref="paper", xanchor="center", yanchor="middle", showarrow=False,
                   text="\u0394\u03a6 = 0 sources", font=dict(family=FONT, size=16, color="#333"))
fig.add_annotation(x=552 / W, y=1 - 11 / H, xref="paper", yref="paper", xanchor="center", yanchor="middle", showarrow=False,
                   text="\u0394\u03a6 = \u03c0 sources", font=dict(family=FONT, size=16, color="#333"))

# page default body margin would shift the whole figure
fig.write_html("out.html", config={"displayModeBar": False}, post_script="document.body.style.margin='0';")
